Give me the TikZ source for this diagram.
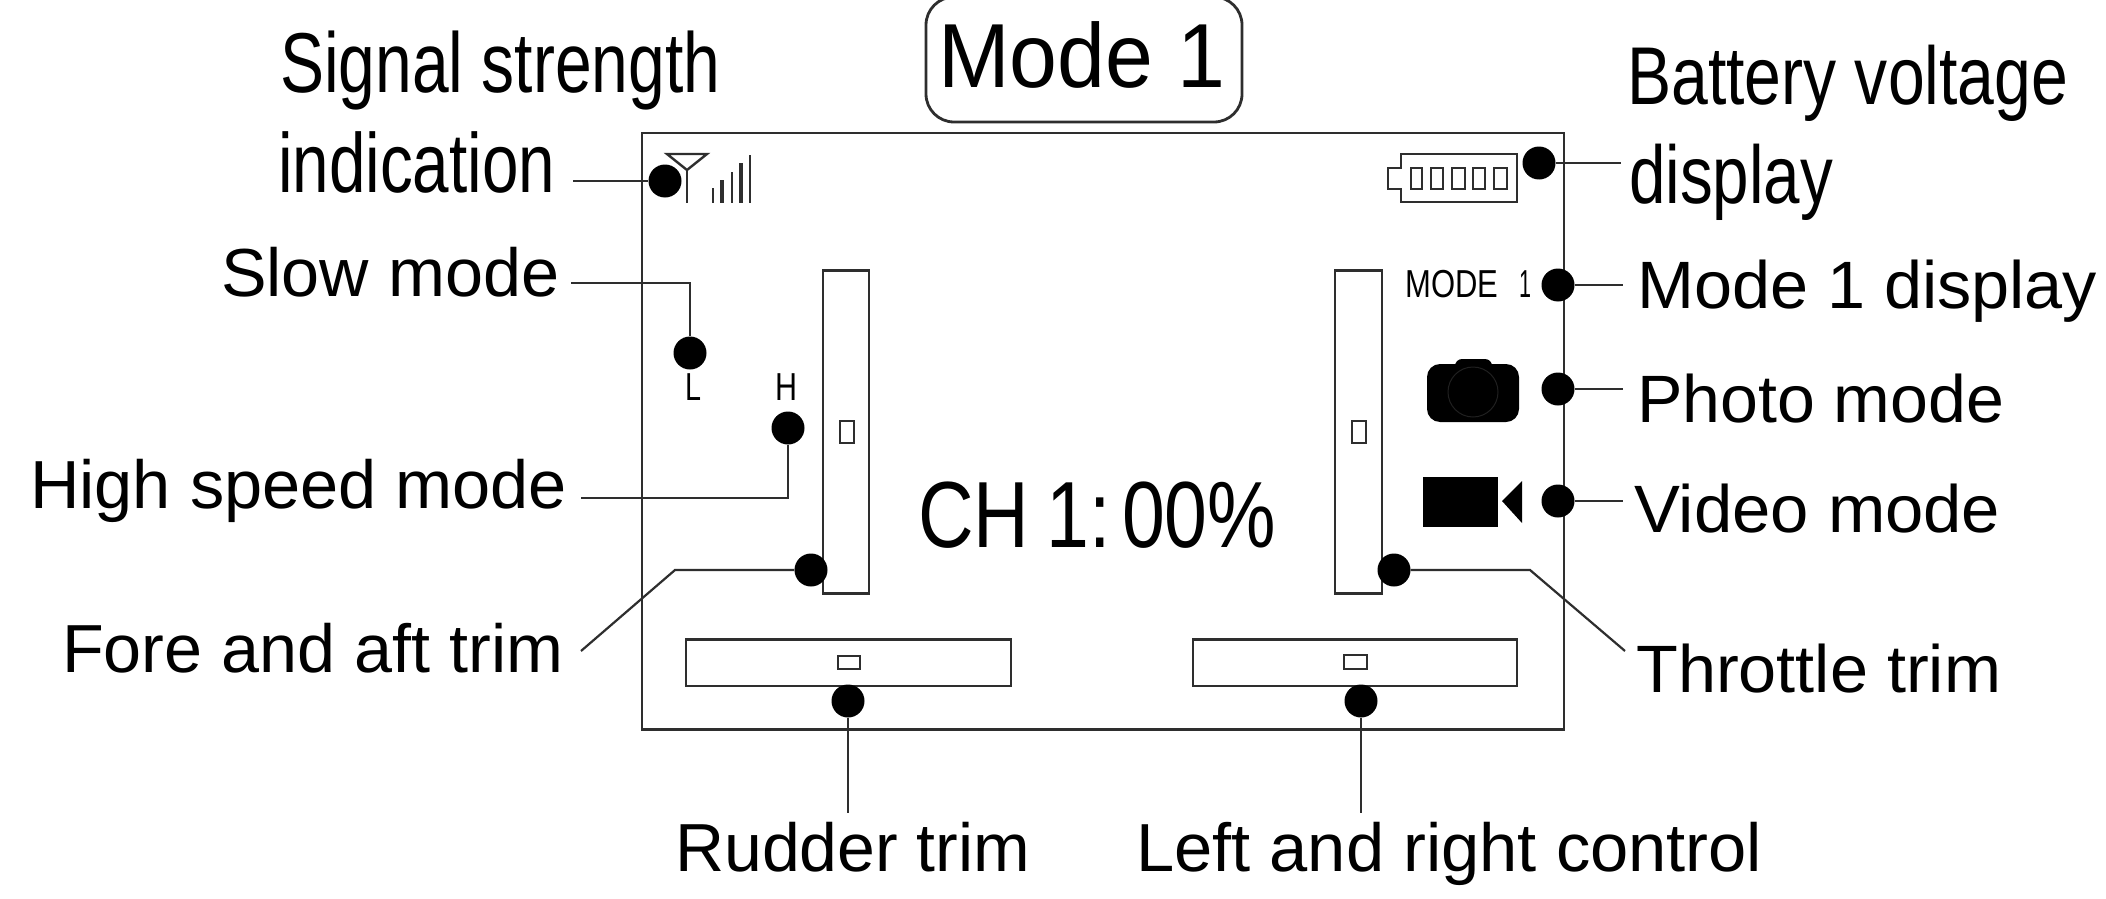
\documentclass[tikz,border=0pt]{standalone}
\usepackage{fontspec}
\usepackage{graphicx}
\setmainfont{Liberation Sans}
\newcommand{\fitlab}[3]{\fontsize{#2}{#2}\selectfont\resizebox{#1pt}{\height}{#3}}
\definecolor{ink}{HTML}{2E2E2E}
\tikzset{
  lab/.style={anchor=base west,inner sep=0pt,text=black},
  dotmark/.style={circle,fill=black,draw=none,minimum size=33pt,inner sep=0pt},
  frameline/.style={draw=ink,line width=2.8pt},
  thinline/.style={draw=ink,line width=2.4pt},
  lead/.style={draw=ink,line width=2.2pt},
  screen/.style={anchor=base west,inner sep=0pt,text=black},
}
\begin{document}
\begin{tikzpicture}[x=1pt,y=-1pt]
\useasboundingbox (0,0) rectangle (2106,899);
\fill[white] (0,0) rectangle (2106,899);
% screen frame and title
\draw[frameline] (642,133) rectangle (1564,729.5);
\draw[frameline,rounded corners=28pt] (926,-3) rectangle (1242,122);
\node[lab] (title) at (938,88) {\fitlab{287}{91}{Mode 1}};
% trim bars
\draw[frameline] (823,270.5) rectangle (869,593.5);
\draw[thinline] (840,421) rectangle (854,443);
\draw[frameline] (1335,270.5) rectangle (1382,593.5);
\draw[thinline] (1352,421) rectangle (1366,443);
\draw[frameline] (686,639.5) rectangle (1011,686);
\draw[thinline] (838,656) rectangle (860,669);
\draw[frameline] (1193,639.5) rectangle (1517,686);
\draw[thinline] (1344,655) rectangle (1367,669);
% antenna icon
\draw[thinline,line join=miter] (667,154) -- (707,154) -- (687,170) -- cycle;
\draw[thinline] (687,170) -- (687,203);
\foreach \bx/\by/\bw in {713/188/2.5,722/180/4,732/172/2.5,741/163/4,750/155/2.5}
  \draw[draw=ink,line width=\bw pt] (\bx,\by) -- (\bx,203);
% battery icon
\draw[frameline] (1401,154) -- (1517,154) -- (1517,202) -- (1401,202) -- (1401,189) -- (1388,189) -- (1388,168) -- (1401,168) -- cycle;
\foreach \ca/\cb in {1411/1422,1431/1443,1452/1465,1473/1485,1494/1507}
  \draw[thinline] (\ca,168) rectangle (\cb,189);
% camera icon
\fill[black,rounded corners=13pt] (1427,364) rectangle (1519,422);
\fill[black,rounded corners=7pt] (1455,359) rectangle (1492,380);
\draw[draw=ink!70!black,line width=1pt] (1473,392) circle (25);
% video icon
\fill[black] (1423,477) rectangle (1498,527);
\fill[black] (1502,501) -- (1522,481) -- (1522,523) -- cycle;
% screen texts
\node[screen] (modetxt) at (1405,297) {\fitlab{93}{39}{MODE}};
\node[screen] (modeone) at (1519,297) {\fitlab{12}{39}{1}};
\node[screen] (hightxt) at (775,400) {\fitlab{22}{39}{H}};
\node[screen] (lowtxt) at (685,400) {\fitlab{16}{39}{L}};
\node[lab] (chan) at (918,547) {\fitlab{358}{94}{CH\hspace{.22em}1:\hspace{.15em}00\%}};
% labels
\node[lab] (signal) at (280,92.7) {\fitlab{440}{85}{Signal strength}};
\node[lab] (indic) at (278,192.7) {\fitlab{277}{84}{indication}};
\node[lab] (slow) at (221,296) {\fitlab{338}{68}{Slow mode}};
\node[lab] (high) at (30,508) {\fitlab{537}{68}{High speed mode}};
\node[lab] (fore) at (62,672) {\fitlab{501}{68}{Fore and aft trim}};
\node[lab] (rudder) at (675,871) {\fitlab{355}{68}{Rudder trim}};
\node[lab] (lrctl) at (1136,871) {\fitlab{626}{68}{Left and right control}};
\node[lab] (batt) at (1627,104) {\fitlab{441}{82}{Battery voltage}};
\node[lab] (disp) at (1629,203) {\fitlab{204}{82}{display}};
\node[lab] (modedisp) at (1637,308) {\fitlab{460}{67}{Mode 1 display}};
\node[lab] (photo) at (1637,422) {\fitlab{367}{67}{Photo mode}};
\node[lab] (video) at (1634,532) {\fitlab{366}{67}{Video mode}};
\node[lab] (thr) at (1636,692) {\fitlab{365}{67}{Throttle trim}};
% dots
\node[dotmark] (dsignal) at (665,181) {};
\node[dotmark] (dslow) at (690,353) {};
\node[dotmark] (dhigh) at (788,428) {};
\node[dotmark] (dfore) at (811,570) {};
\node[dotmark] (drudder) at (848,701) {};
\node[dotmark] (dlr) at (1361,701) {};
\node[dotmark] (dthr) at (1394,570) {};
\node[dotmark] (dvideo) at (1558,501) {};
\node[dotmark] (dphoto) at (1558,389) {};
\node[dotmark] (dmode) at (1558,285) {};
\node[dotmark] (dbatt) at (1539,163) {};
% free ends of the leaders
\coordinate (esignal) at (573,181);
\coordinate (eslow) at (571,283);
\coordinate (ehigh) at (581,498);
\coordinate (efore) at (581,651);
\coordinate (kfore) at (675,570);
\coordinate (erudder) at (848,813);
\coordinate (elr) at (1361,813);
\coordinate (ethr) at (1625,651);
\coordinate (kthr) at (1530,570);
\coordinate (evideo) at (1623,501);
\coordinate (ephoto) at (1623,389);
\coordinate (emode) at (1623,285);
\coordinate (ebatt) at (1621,163);
% leaders
\draw[lead] (esignal) -- (dsignal);
\draw[lead] (eslow) -| (dslow);
\draw[lead] (ehigh) -| (dhigh);
\draw[lead] (efore) -- (kfore) -- (dfore);
\draw[lead] (drudder) -- (erudder);
\draw[lead] (dlr) -- (elr);
\draw[lead] (dthr) -- (kthr) -- (ethr);
\draw[lead] (dvideo) -- (evideo);
\draw[lead] (dphoto) -- (ephoto);
\draw[lead] (dmode) -- (emode);
\draw[lead] (dbatt) -- (ebatt);
\end{tikzpicture}
\end{document}
